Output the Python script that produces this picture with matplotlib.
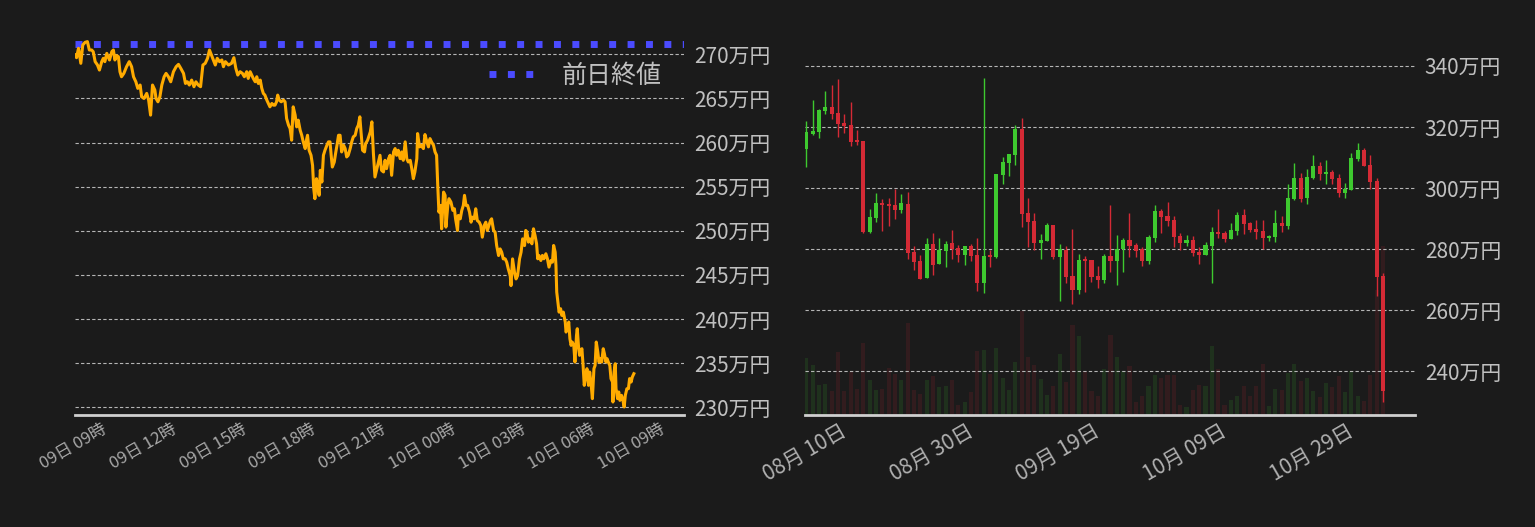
import matplotlib
matplotlib.use("Agg")
import matplotlib.pyplot as plt
import matplotlib.dates as mdates
from matplotlib.ticker import FuncFormatter, MultipleLocator
import numpy as np
import pandas as pd

plt.rcParams['font.family'] = ['Noto Sans CJK JP', 'DejaVu Sans']

# --- intraday price (minutes from start, price in 万円) ---
intraday_start = "2024-11-09 07:30"
minutes = [
    0, 4, 9, 15, 20, 26, 32, 37, 43, 47, 52, 58, 63, 69, 73, 77, 82, 89, 95, 99,
    103, 108, 112, 116, 120, 126, 133, 140, 146, 151, 157, 162, 168, 172, 178, 185, 190, 195, 200, 206,
    209, 214, 219, 224, 230, 235, 241, 247, 254, 261, 267, 273, 280, 285, 290, 295, 301, 307, 312, 318,
    324, 330, 336, 342, 347, 352, 357, 362, 367, 373, 379, 383, 388, 396, 404, 410, 415, 420, 426, 432,
    437, 443, 447, 452, 456, 460, 465, 469, 473, 478, 482, 486, 490, 495, 499, 503, 508, 512, 516, 520,
    523, 527, 532, 538, 542, 546, 551, 555, 559, 563, 568, 572, 576, 581, 585, 589, 594, 598, 600, 604,
    609, 613, 616, 619, 623, 626, 630, 633, 637, 641, 645, 650, 654, 658, 661, 664, 669, 673, 676, 680,
    684, 688, 693, 697, 701, 705, 710, 714, 718, 723, 727, 731, 735, 738, 742, 747, 750, 755, 759, 762,
    766, 770, 774, 787, 791, 796, 800, 804, 809, 813, 817, 822, 826, 830, 834, 839, 843, 847, 852, 856,
    860, 865, 869, 873, 877, 882, 884, 889, 893, 899, 903, 908, 912, 916, 920, 925, 929, 933, 936, 939,
    943, 946, 951, 955, 957, 962, 965, 970, 975, 979, 982, 987, 989, 994, 998, 1002, 1005, 1009, 1013, 1018,
    1022, 1025, 1030, 1034, 1038, 1043, 1047, 1051, 1056, 1060, 1064, 1068, 1072, 1075, 1080, 1084, 1088, 1093, 1097, 1101,
    1105, 1110, 1114, 1118, 1123, 1125, 1129, 1134, 1138, 1142, 1147, 1151, 1155, 1160, 1163, 1166, 1170, 1174, 1179, 1183,
    1187, 1191, 1194, 1197, 1202, 1206, 1210, 1215, 1219, 1223, 1228, 1232, 1235, 1239, 1241, 1243, 1246, 1249, 1253, 1256,
    1260, 1265, 1267, 1271, 1274, 1277, 1280, 1283, 1287, 1290, 1294, 1296, 1299, 1302, 1304, 1308, 1311, 1314, 1318, 1321,
    1325, 1328, 1332, 1335, 1339, 1342, 1345, 1349, 1352, 1356, 1359, 1363, 1366, 1370, 1373, 1376, 1380, 1383, 1387, 1388,
    1391, 1394, 1396, 1400, 1403, 1406, 1410, 1413, 1417, 1420, 1424, 1428, 1431, 1435, 1438, 1442,
]
prices = [
    269.92, 269.62, 270.68, 268.98, 271.06, 271.36, 271.44, 270.49, 270.49, 270.30, 269.17, 268.79, 268.22, 269.17, 269.55, 269.17, 270.11, 269.36, 270.30, 270.49,
    269.36, 269.85, 269.73, 268.03, 267.46, 267.84, 268.60, 269.17, 268.60, 267.46, 266.89, 266.14, 266.52, 265.19, 265.00, 265.57, 264.81, 263.11, 266.52, 265.95,
    265.00, 264.62, 265.19, 266.52, 267.46, 267.84, 267.46, 266.89, 268.03, 268.60, 268.86, 268.41, 267.84, 266.70, 266.89, 266.52, 267.08, 266.33, 266.89, 266.52,
    266.33, 268.79, 268.98, 269.55, 270.49, 269.92, 269.36, 268.79, 269.55, 269.17, 269.36, 268.60, 269.17, 268.79, 268.98, 269.62, 268.41, 267.65, 268.03, 267.84,
    267.46, 268.03, 267.27, 268.03, 267.65, 267.27, 266.89, 267.46, 266.70, 267.08, 266.14, 265.57, 265.38, 264.81, 264.43, 264.05, 264.43, 264.24, 264.24, 264.62,
    265.38, 264.81, 264.62, 264.81, 264.62, 262.73, 261.97, 261.59, 260.27, 264.05, 263.11, 261.78, 262.54, 261.40, 260.83, 260.08, 259.32, 260.45, 260.83, 259.13,
    258.56, 257.42, 254.77, 253.64, 255.91, 255.15, 254.02, 256.86, 255.53, 258.56, 259.13, 259.70, 260.08, 260.08, 258.56, 257.23, 257.80, 258.94, 259.70, 260.83,
    260.83, 258.94, 259.70, 259.32, 258.37, 258.56, 259.32, 260.08, 260.64, 260.83, 261.59, 261.97, 262.92, 261.21, 259.13, 258.94, 259.89, 260.27, 260.83, 261.21,
    262.35, 258.75, 256.10, 258.56, 256.86, 256.67, 257.99, 257.05, 258.18, 258.56, 256.29, 258.94, 259.32, 258.56, 259.13, 258.18, 258.94, 257.99, 260.08, 258.18,
    257.80, 257.99, 257.05, 255.91, 256.67, 258.18, 261.02, 259.51, 259.70, 259.32, 260.91, 260.08, 259.51, 260.45, 260.08, 259.70, 258.94, 258.56, 255.15, 252.12,
    252.88, 250.23, 254.39, 254.02, 250.42, 252.88, 253.64, 253.26, 252.31, 252.50, 251.36, 250.04, 251.74, 251.36, 252.31, 252.88, 254.02, 252.88, 252.88, 252.12,
    250.98, 251.55, 251.36, 252.50, 251.17, 250.98, 250.61, 249.28, 250.61, 250.98, 250.04, 250.61, 251.17, 251.36, 250.04, 249.85, 248.33, 247.20, 247.95, 247.58,
    246.82, 246.82, 246.44, 245.68, 244.92, 243.79, 246.82, 245.30, 244.55, 244.92, 246.82, 247.58, 249.09, 248.33, 250.04, 249.85, 248.72, 249.09, 248.53, 250.23,
    249.47, 248.53, 246.83, 247.21, 246.64, 247.21, 246.83, 247.40, 246.83, 245.89, 246.64, 246.45, 248.34, 247.58, 246.08, 243.06, 241.92, 240.79, 241.17, 240.42,
    240.79, 239.66, 238.53, 238.91, 239.66, 237.77, 237.02, 237.40, 237.02, 235.13, 238.15, 238.91, 237.02, 235.89, 236.26, 236.64, 234.75, 232.49, 233.62, 234.38,
    232.49, 234.00, 232.49, 230.98, 234.38, 234.75, 237.40, 236.26, 235.13, 235.51, 235.13, 236.64, 236.08, 235.13, 235.51, 235.13, 234.75, 233.25, 232.87, 230.60,
    234.00, 234.94, 232.11, 230.98, 231.74, 230.79, 231.36, 230.98, 230.04, 231.36, 232.11, 232.11, 233.25, 232.87, 233.43, 233.81,
]
prev_close = 271.2

# --- daily candles (万円) ---
daily_start = "2024-08-03"
opens = [
    312.93, 317.84, 318.50, 325.38, 326.58, 324.61, 321.34, 320.68, 315.44, 315.44,
    285.76, 290.34, 295.14, 294.82, 294.49, 292.96, 294.82, 279.10, 276.15, 270.70,
    281.72, 275.28, 279.54, 282.05, 280.41, 278.23, 281.06, 278.12, 269.06, 278.12,
    277.57, 304.42, 308.35, 310.97, 319.37, 291.87, 289.25, 282.16, 282.81, 287.94,
    277.57, 279.76, 271.24, 266.77, 276.48, 276.48, 271.24, 270.04, 277.79, 276.26,
    280.08, 283.03, 281.39, 280.08, 276.26, 283.79, 292.52, 290.89, 289.58, 284.34,
    282.16, 283.03, 279.10, 278.23, 281.17, 285.65, 285.32, 283.47, 286.08, 291.21,
    288.60, 286.63, 285.98, 283.79, 284.12, 288.60, 287.72, 296.56, 303.33, 296.89,
    303.44, 307.26, 304.75, 305.29, 303.33, 298.53, 299.51, 309.66, 312.50, 307.59,
    302.35, 271.24,
]
highs = [
    321.99, 328.87, 325.81, 331.81, 333.78, 335.74, 324.28, 328.21, 319.05, 315.44,
    293.18, 298.42, 296.45, 296.78, 299.73, 298.09, 298.75, 281.06, 278.12, 283.68,
    285.32, 283.68, 282.70, 286.30, 281.39, 281.06, 281.72, 283.68, 336.07, 279.76,
    304.64, 310.20, 311.19, 320.68, 322.97, 296.78, 291.87, 285.10, 288.60, 287.94,
    281.72, 281.06, 286.63, 278.45, 277.79, 276.48, 274.52, 278.45, 294.49, 284.67,
    283.68, 291.87, 282.05, 280.74, 284.67, 294.49, 293.18, 295.47, 290.89, 285.32,
    284.67, 284.34, 280.74, 282.37, 287.29, 293.18, 285.98, 288.60, 292.20, 293.18,
    288.92, 289.58, 289.58, 284.78, 292.85, 290.89, 301.36, 308.24, 304.97, 306.28,
    310.86, 308.57, 309.22, 305.95, 304.64, 301.69, 311.51, 314.79, 313.15, 310.86,
    303.33, 272.11,
]
lows = [
    307.04, 317.52, 316.53, 324.39, 322.76, 316.86, 318.17, 313.92, 314.24, 285.43,
    285.43, 288.92, 286.08, 287.72, 290.01, 291.98, 276.92, 273.31, 270.37, 270.70,
    271.68, 275.28, 274.30, 276.92, 275.93, 274.95, 276.26, 266.44, 265.78, 274.30,
    277.24, 301.47, 304.09, 307.69, 287.39, 280.85, 279.86, 276.92, 282.81, 276.92,
    263.17, 269.06, 262.18, 265.46, 266.11, 269.39, 267.42, 269.06, 272.66, 268.40,
    272.66, 277.57, 277.57, 274.62, 275.28, 282.48, 285.43, 287.72, 280.85, 279.86,
    281.17, 277.90, 275.28, 278.23, 269.06, 283.79, 282.48, 283.47, 284.78, 285.10,
    285.76, 283.47, 280.08, 282.81, 282.48, 285.76, 286.74, 296.23, 295.58, 294.93,
    303.11, 302.78, 301.47, 301.47, 297.22, 296.89, 299.51, 309.00, 307.37, 299.84,
    264.80, 229.90,
]
closes = [
    318.39, 318.72, 325.59, 326.58, 324.39, 321.12, 320.46, 315.23, 315.23, 285.76,
    290.56, 295.14, 294.60, 294.27, 292.96, 295.14, 278.88, 275.93, 270.37, 281.72,
    274.95, 279.76, 281.72, 280.08, 278.23, 281.06, 277.90, 269.06, 277.79, 277.57,
    304.64, 308.57, 311.19, 319.37, 291.65, 289.03, 282.16, 283.03, 287.94, 277.57,
    280.08, 271.02, 266.77, 276.48, 276.26, 271.02, 270.04, 277.79, 276.26, 280.08,
    283.03, 281.17, 279.54, 276.26, 284.01, 292.52, 290.67, 289.25, 284.12, 282.16,
    283.03, 278.88, 278.23, 281.39, 285.65, 285.10, 283.47, 286.30, 291.21, 288.38,
    286.41, 285.76, 283.79, 284.34, 288.60, 287.72, 296.78, 303.33, 296.56, 303.66,
    307.26, 304.75, 305.29, 303.11, 298.53, 299.73, 309.88, 312.50, 307.37, 302.13,
    271.02, 233.52,
]
volumes = [
    57.3, 50, 30, 31, 24, 62.7, 24, 43.3, 26, 72.3,
    35, 25, 26, 47.3, 41, 35, 92, 25, 21, 35,
    39, 28, 29, 35, 10, 13, 23, 64, 65, 41,
    67, 37, 25, 53, 104, 58, 50, 36, 20, 29,
    61, 33, 90, 79, 44, 24, 19, 46, 80, 58.3,
    44, 49, 13, 19, 29, 40, 37, 40, 40, 10,
    8, 25, 30, 29, 69, 46, 10, 15, 19, 29,
    19, 29, 51, 9, 26, 25, 42, 51, 34, 37,
    24, 18, 32, 28, 39, 23, 44, 19, 14, 40,
    125, 169,
]

BG = '#1b1b1b'
TXT = '#c0c0c0'
GREEN = '#3ec92f'
RED = '#d42a35'

fig = plt.figure(figsize=(15.35, 5.27), dpi=100, facecolor=BG)


def style_axes(ax):
    ax.set_facecolor(BG)
    for side in ['top', 'left', 'right']:
        ax.spines[side].set_visible(False)
    ax.spines['bottom'].set_color('#cfcfcf')
    ax.spines['bottom'].set_linewidth(2)
    ax.yaxis.tick_right()
    ax.yaxis.set_label_position('right')
    ax.tick_params(length=0, colors=TXT)
    ax.tick_params(axis='y', labelsize=15, pad=7)
    ax.yaxis.grid(True, linestyle=(0, (3, 2)), color='#b5b5b5', linewidth=0.8)
    ax.set_axisbelow(True)
    ax.yaxis.set_major_formatter(FuncFormatter(lambda v, p: f"{v:.0f}万円"))


# ---------- left: intraday ----------
ax1 = fig.add_axes([75 / 1535, 112 / 527, 609 / 1535, 380 / 527])
style_axes(ax1)
t0 = pd.Timestamp(intraday_start)
times = t0 + pd.to_timedelta(minutes, unit='min')
ax1.axhline(prev_close, color='#4b4bff', linestyle=':', linewidth=5, label='前日終値', zorder=2)
ax1.plot(times, prices, color='#ffab00', linewidth=2.2, zorder=3)
ax1.set_xlim(t0, t0 + pd.Timedelta(hours=26.19))
ax1.set_ylim(229.13, 272.19)
ax1.yaxis.set_major_locator(MultipleLocator(5))
ax1.xaxis.set_major_locator(mdates.HourLocator(byhour=range(0, 24, 3)))
ax1.xaxis.set_major_formatter(mdates.DateFormatter('%d日 %H時'))
ax1.tick_params(axis='x', labelsize=12, colors='#a8a8a8', pad=4)
plt.setp(ax1.get_xticklabels(), rotation=30, ha='right')
ax1.legend(loc='upper right', bbox_to_anchor=(1.0, 0.985), frameon=False, fontsize=18,
           labelcolor=TXT, handlelength=1.9, handletextpad=1.0)

# ---------- right: daily candles ----------
ax2 = fig.add_axes([805 / 1535, 112 / 527, 610 / 1535, 380 / 527])
dates = pd.date_range(daily_start, periods=len(opens), freq='D')
x = mdates.date2num(dates)
o = np.array(opens)
h = np.array(highs)
l = np.array(lows)
c = np.array(closes)
up = c >= o
colors = np.where(up, GREEN, RED)

# volume on a hidden twin axis, drawn behind the candles
axv = ax2.twinx()
axv.bar(x, volumes, width=0.65, color=colors, alpha=0.13, zorder=1)
axv.set_ylim(0, 380)
axv.axis('off')
ax2.set_zorder(axv.get_zorder() + 1)
style_axes(ax2)
ax2.patch.set_visible(False)

ax2.vlines(x, l, h, colors=colors, linewidth=1.0, zorder=3)
body_low = np.minimum(o, c)
body_h = np.maximum(np.abs(c - o), 0.4)
ax2.bar(x, body_h, bottom=body_low, width=0.65, color=colors, zorder=4)

ax2.set_xlim(x[0] - 0.2, x[0] + 96.05)
ax2.set_ylim(225.72, 350.15)
ax2.yaxis.set_major_locator(MultipleLocator(20))
ax2.set_xticks(x[7::20])
ax2.xaxis.set_major_formatter(mdates.DateFormatter('%m月 %d日'))
ax2.tick_params(axis='x', labelsize=15, colors='#b0b0b0', pad=4)
plt.setp(ax2.get_xticklabels(), rotation=30, ha='right')

fig.savefig('out.png', dpi=100, facecolor=BG)
